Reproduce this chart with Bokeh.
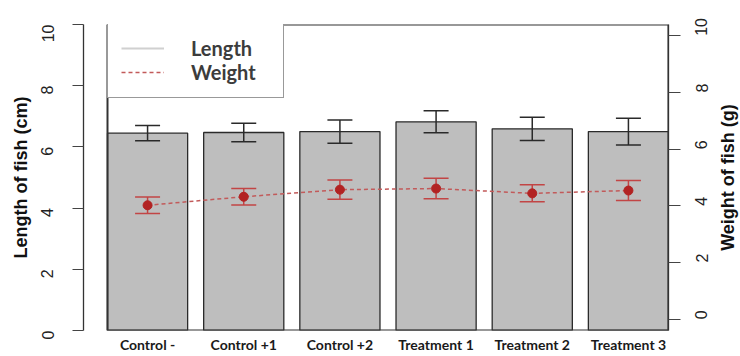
import math
from bokeh.plotting import figure
from bokeh.models import (Range1d, LinearAxis, FixedTicker, Whisker, TeeHead,
                          ColumnDataSource, Legend, LegendItem, Label)
from bokeh.embed import file_html
from bokeh.resources import INLINE

# ---- data ----
categories = ["Control -", "Control +1", "Control +2", "Treatment 1", "Treatment 2", "Treatment 3"]
length_mean = [6.45, 6.47, 6.50, 6.82, 6.59, 6.50]
length_err = [0.25, 0.30, 0.38, 0.36, 0.38, 0.44]
weight_mean = [4.02, 4.32, 4.57, 4.61, 4.44, 4.54]
weight_err = [0.29, 0.29, 0.34, 0.36, 0.30, 0.35]
left_ticks = [0, 2, 4, 6, 8, 10]
right_ticks = [0, 2, 4, 6, 8, 10]

# ---- layout ----
W, H = 740, 356
BL, BR, BT, BB = 83, 72, 24, 26
frame_w = W - BL - BR
frame_h = H - BT - BB
n = len(categories)
xs = list(range(n))
bar_w = 1 / 1.2
gap_left = 24  # px between left axis and first bar
x_end = (n - 1) + bar_w / 2
x_first = -bar_w / 2
px_per_unit = (frame_w - gap_left) / (x_end - x_first)
x_start = x_first - gap_left / px_per_unit

p = figure(width=W, height=H, output_backend="svg", toolbar_location=None,
           x_range=Range1d(x_start, x_end), y_range=Range1d(0, 10),
           min_border_left=BL, min_border_right=BR, min_border_top=BT, min_border_bottom=BB)
p.extra_y_ranges = {"w": Range1d(-0.4, 10.4)}
p.outline_line_color = None
p.xgrid.visible = False
p.ygrid.visible = False
p.background_fill_color = "white"
p.border_fill_color = "white"

src = ColumnDataSource(dict(
    x=xs, lm=length_mean,
    lu=[m + e for m, e in zip(length_mean, length_err)],
    ll=[m - e for m, e in zip(length_mean, length_err)],
    wm=weight_mean,
    wu=[m + e for m, e in zip(weight_mean, weight_err)],
    wl=[m - e for m, e in zip(weight_mean, weight_err)],
))

# hidden renderer used only for the "Length" legend entry
lline = p.line(x="x", y="lm", source=src, line_color="#d0d0d0", line_width=2, visible=False)

# bars
p.vbar(x="x", top="lm", bottom=0, width=bar_w, source=src,
       fill_color="#bebebe", line_color="#2b2b2b", line_width=1.3)

# plot box
p.quad(left=[xs[0] - bar_w / 2], right=[xs[-1] + bar_w / 2], bottom=[0], top=[10],
       fill_alpha=0, line_color="#333333", line_width=2)

# length error bars
wl = Whisker(source=src, base="x", upper="lu", lower="ll", dimension="height",
             line_color="#2a2a2a", line_width=1.5, level="annotation",
             upper_head=TeeHead(size=25, line_color="#2a2a2a", line_width=1.5),
             lower_head=TeeHead(size=25, line_color="#2a2a2a", line_width=1.5))
p.add_layout(wl)

# weight line, error bars, points
wline = p.line(x="x", y="wm", source=src, y_range_name="w",
               line_color="#c25a5a", line_width=1.5, line_dash="4 3")
ww = Whisker(source=src, base="x", upper="wu", lower="wl", dimension="height",
             y_range_name="w", line_color="#c24545", line_width=1.5, level="annotation",
             upper_head=TeeHead(size=25, line_color="#c24545", line_width=1.5),
             lower_head=TeeHead(size=25, line_color="#c24545", line_width=1.5))
p.add_layout(ww)
p.scatter(x="x", y="wm", source=src, y_range_name="w", size=9,
          fill_color="#b22222", line_color="#b22222", level="overlay")

# x axis
xa = p.xaxis[0]
xa.ticker = FixedTicker(ticks=xs)
xa.major_label_overrides = {i: c for i, c in zip(xs, categories)}
xa.axis_line_color = None
xa.major_tick_line_color = None
xa.minor_tick_line_color = None
xa.major_tick_out = 0
xa.major_tick_in = 0
xa.major_label_standoff = 5
xa.major_label_text_font = "Lato"
xa.major_label_text_font_style = "bold"
xa.major_label_text_font_size = "14px"
xa.major_label_text_line_height = 1.0
xa.major_label_text_color = "#1a1a1a"

# left axis
ya = p.yaxis[0]
ya.ticker = FixedTicker(ticks=left_ticks)
ya.axis_line_color = "#333333"
ya.axis_line_width = 1.3
ya.major_tick_line_color = "#444444"
ya.major_tick_line_width = 1.2
ya.major_tick_out = 11
ya.major_tick_in = 0
ya.minor_tick_line_color = None
ya.major_label_orientation = math.pi / 2
ya.major_label_standoff = 25
ya.major_label_text_font = "Liberation Sans"
ya.major_label_text_font_size = "16px"
ya.major_label_text_color = "#222222"
ya.axis_label = "Length of fish (cm)"
ya.axis_label_text_font = "Liberation Sans"
ya.axis_label_text_font_style = "bold"
ya.axis_label_text_font_size = "18px"
ya.axis_label_text_color = "#111111"
ya.axis_label_standoff = 2

# right axis
ra = LinearAxis(y_range_name="w", ticker=FixedTicker(ticks=right_ticks))
ra.axis_line_color = "#333333"
ra.axis_line_width = 1.3
ra.major_tick_line_color = "#444444"
ra.major_tick_line_width = 1.2
ra.major_tick_out = 12
ra.major_tick_in = 0
ra.minor_tick_line_color = None
ra.major_label_orientation = math.pi / 2
ra.major_label_standoff = 21
ra.major_label_text_font = "Liberation Sans"
ra.major_label_text_font_size = "16px"
ra.major_label_text_color = "#222222"
p.add_layout(ra, "right")

# right axis title, placed in the right side panel
rt = Label(x=11, y=5, x_units="screen", y_units="data", angle=math.pi / 2,
           text="Weight of fish (g)", text_align="center", text_baseline="middle",
           text_font="Liberation Sans", text_font_style="bold", text_font_size="18px",
           text_color="#111111")
p.add_layout(rt, "right")

# legend
leg_pad, leg_row = 13, 24
leg_h = 2 * leg_pad + 2 * leg_row
legend = Legend(items=[LegendItem(label="Length", renderers=[lline]),
                       LegendItem(label="Weight", renderers=[wline])],
                location=(gap_left, frame_h - leg_h), orientation="vertical",
                border_line_color="#333333", border_line_width=1.2,
                background_fill_color="white", background_fill_alpha=1,
                inactive_fill_alpha=0,
                label_text_font="Lato", label_text_font_style="bold",
                label_text_font_size="20px", label_text_color="#3c3c3c",
                label_text_line_height=1.0,
                glyph_width=43, glyph_height=leg_row, label_height=leg_row, label_standoff=27,
                label_width=79, padding=leg_pad, spacing=0, margin=0)
p.add_layout(legend)

open("out.html", "w").write(file_html(p, INLINE))
